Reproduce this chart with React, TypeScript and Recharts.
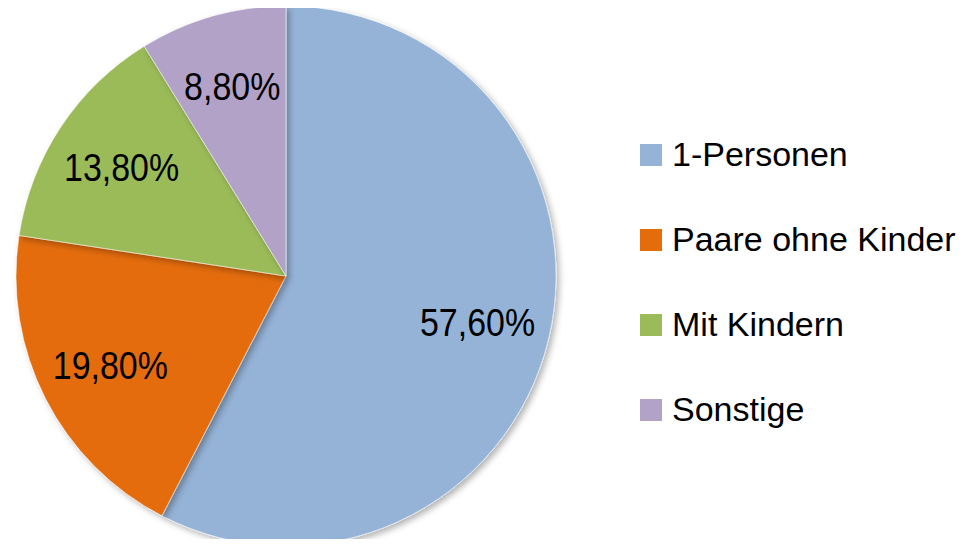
import { PieChart, Pie, Cell } from 'recharts';

const categories = ['1-Personen', 'Paare ohne Kinder', 'Mit Kindern', 'Sonstige'];
const shares = [57.6, 19.8, 13.8, 8.8];
const colors = ['#95B3D7', '#E46C0A', '#9BBB59', '#B3A2C7'];

const data = categories.map((name, i) => ({ name, value: shares[i] }));

const RAD = Math.PI / 180;
const fontFamily = '"Liberation Sans", Arial, sans-serif';

function renderLabel(props: any) {
  const { cx, cy, midAngle, outerRadius, value } = props;
  const r = outerRadius * 0.73;
  const x = cx + r * Math.cos(-midAngle * RAD);
  const y = cy + r * Math.sin(-midAngle * RAD);
  // narrow-looking label: taller glyphs, squeezed horizontally
  return (
    <text
      transform={`translate(${x},${y}) scale(0.87,1)`}
      fill="#000"
      textAnchor="middle"
      dominantBaseline="central"
      fontSize={39}
      fontFamily={fontFamily}
    >
      {value.toFixed(2).replace('.', ',')}%
    </text>
  );
}

function LegendBox() {
  return (
    <div style={{ position: 'absolute', left: 640, top: 112, fontFamily, fontSize: 34, color: '#000' }}>
      {categories.map((c, i) => (
        <div key={c} style={{ display: 'flex', alignItems: 'center', height: 85 }}>
          <span style={{ width: 22, height: 22, background: colors[i], marginRight: 10, display: 'inline-block' }} />
          <span>{c}</span>
        </div>
      ))}
    </div>
  );
}

export default function App() {
  return (
    <div style={{ margin: -8, width: 970, height: 547, background: '#fff', position: 'relative' }}>
      <PieChart width={970} height={547} margin={{ top: 0, right: 0, bottom: 0, left: 0 }}>
        <defs>
          <filter id="pieShadow" x="-10%" y="-10%" width="120%" height="120%">
            <feDropShadow dx="3" dy="3" stdDeviation="3" floodColor="#000" floodOpacity="0.3" />
          </filter>
        </defs>
        <Pie
          data={data}
          dataKey="value"
          nameKey="name"
          cx={286}
          cy={276}
          outerRadius={270}
          startAngle={90}
          endAngle={-270}
          label={renderLabel}
          labelLine={false}
          stroke="#fff"
          strokeWidth={0.5}
          isAnimationActive={false}
          style={{ filter: 'url(#pieShadow)' }}
        >
          {data.map((d, i) => (
            <Cell key={d.name} fill={colors[i]} />
          ))}
        </Pie>
      </PieChart>
      <LegendBox />
    </div>
  );
}
